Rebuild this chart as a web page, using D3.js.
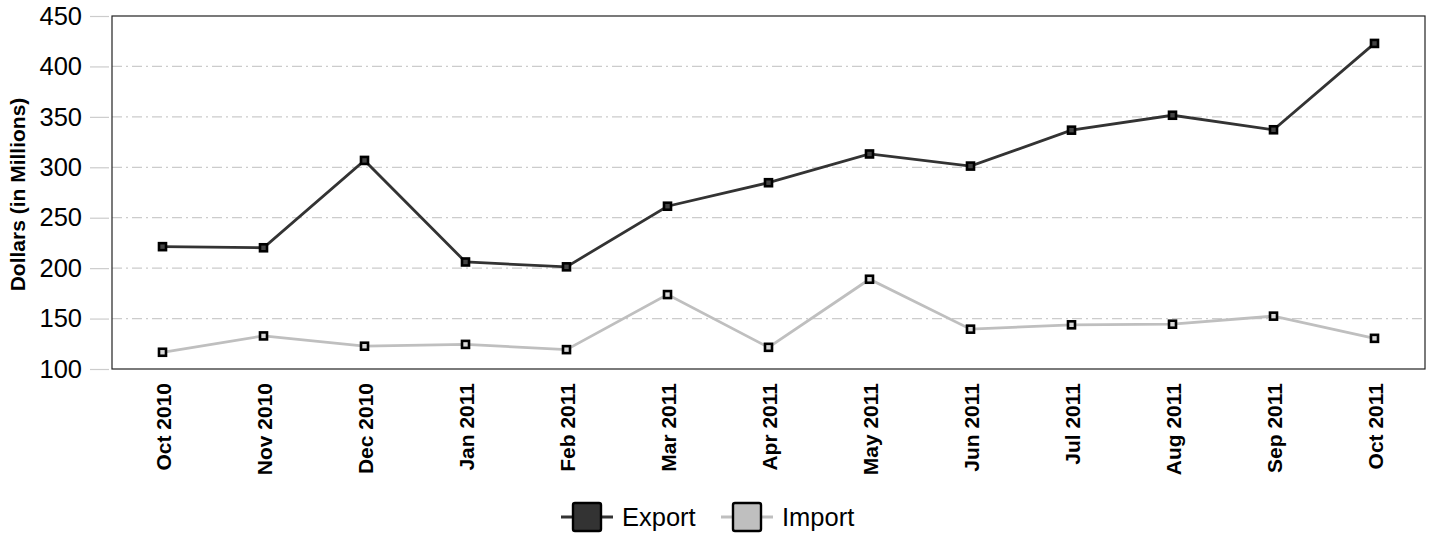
<!DOCTYPE html>
<html>
<head>
<meta charset="utf-8">
<script src="https://cdn.jsdelivr.net/npm/d3@7"></script>
<style>
  body { margin: 0; background: #fff; }
  text { font-family: "Liberation Sans", Arial, sans-serif; }
</style>
</head>
<body>
<div id="vis"></div>
<script>
const FRAME_WIDTH = 1431;
const FRAME_HEIGHT = 535;
const MARGINS = {left: 112, right: 6, top: 16, bottom: 166};

const VIS_WIDTH = FRAME_WIDTH - MARGINS.left - MARGINS.right;
const VIS_HEIGHT = FRAME_HEIGHT - MARGINS.top - MARGINS.bottom;

// data
const MONTHS = ["Oct 2010", "Nov 2010", "Dec 2010", "Jan 2011", "Feb 2011", "Mar 2011",
                "Apr 2011", "May 2011", "Jun 2011", "Jul 2011", "Aug 2011", "Sep 2011", "Oct 2011"];
const EXPORT = [221.3, 220.2, 306.8, 206.1, 201.3, 261.4, 284.7, 313.2, 301.2, 336.8, 351.6, 337.2, 422.8];
const IMPORT = [116.6, 132.8, 122.6, 124.4, 119.2, 173.8, 121.5, 189.0, 139.5, 143.8, 144.4, 152.4, 130.4];
const Y_TICKS = [100, 150, 200, 250, 300, 350, 400, 450];

const SERIES = [
  {name: "Export", values: EXPORT, color: "#333333", dot: "#444444"},
  {name: "Import", values: IMPORT, color: "#bfbfbf", dot: "#d9d9d9"}
];

const SVG = d3.select("#vis")
  .append("svg")
    .attr("width", FRAME_WIDTH)
    .attr("height", FRAME_HEIGHT);

const X_SCALE = d3.scalePoint()
  .domain(MONTHS)
  .range([0, VIS_WIDTH])
  .padding(0.5);

const Y_SCALE = d3.scaleLinear()
  .domain([100, 450])
  .range([VIS_HEIGHT, 0]);

const G = SVG.append("g")
  .attr("transform", "translate(" + MARGINS.left + "," + MARGINS.top + ")");

// y axis: light stubs outside the box + labels
const yAxis = G.append("g")
  .call(d3.axisLeft(Y_SCALE).tickValues(Y_TICKS).tickSize(22).tickPadding(8));
yAxis.select(".domain").remove();
yAxis.selectAll(".tick line")
  .attr("x1", -3)
  .attr("stroke", "#cccccc")
  .attr("stroke-width", 1.2);
yAxis.selectAll(".tick text")
  .attr("font-size", "25.5px")
  .attr("fill", "#000")
  .attr("font-family", "Liberation Sans, Arial, sans-serif");

// dash-dot gridlines
G.append("g")
  .selectAll("line")
  .data(Y_TICKS.filter(d => d > 100 && d < 450))
  .enter()
  .append("line")
    .attr("x1", 0)
    .attr("x2", VIS_WIDTH)
    .attr("y1", d => Y_SCALE(d))
    .attr("y2", d => Y_SCALE(d))
    .attr("stroke", "#cccccc")
    .attr("stroke-width", 1.2)
    .attr("stroke-dasharray", "10,4,2,4");

// box
G.append("rect")
  .attr("x", 0)
  .attr("y", 0)
  .attr("width", VIS_WIDTH)
  .attr("height", VIS_HEIGHT)
  .attr("fill", "none")
  .attr("stroke", "#222")
  .attr("stroke-width", 1.2);

// x labels
const xAxis = G.append("g")
  .attr("transform", "translate(0," + VIS_HEIGHT + ")")
  .call(d3.axisBottom(X_SCALE).tickSize(0));
xAxis.select(".domain").remove();
xAxis.selectAll(".tick text")
  .attr("transform", "rotate(-90)")
  .attr("text-anchor", "end")
  .attr("x", -14)
  .attr("y", 0)
  .attr("dy", "0.36em")
  .attr("font-size", "21px")
  .attr("font-weight", "bold")
  .attr("fill", "#000")
  .attr("font-family", "Liberation Sans, Arial, sans-serif");

// y title
SVG.append("text")
  .attr("transform", "translate(25," + (MARGINS.top + VIS_HEIGHT / 2 + 2) + ") rotate(-90)")
  .attr("text-anchor", "middle")
  .attr("font-size", "21px")
  .attr("font-weight", "bold")
  .text("Dollars (in Millions)");

// lines
const LINE = d3.line()
  .x((d, i) => X_SCALE(MONTHS[i]))
  .y(d => Y_SCALE(d));

SERIES.forEach(s => {
  G.append("path")
    .datum(s.values)
    .attr("d", LINE)
    .attr("fill", "none")
    .attr("stroke", s.color)
    .attr("stroke-width", 2.8);

  G.selectAll(".pt-" + s.name)
    .data(s.values)
    .enter()
    .append("rect")
      .attr("x", (d, i) => X_SCALE(MONTHS[i]) - 3.5)
      .attr("y", d => Y_SCALE(d) - 3.5)
      .attr("width", 7)
      .attr("height", 7)
      .attr("fill", s.dot)
      .attr("stroke", "#000")
      .attr("stroke-width", 2.6);
});

// legend
const LEGEND = SVG.append("g").attr("transform", "translate(561,517)");
const legendX = [0, 160];
SERIES.forEach((s, i) => {
  const lg = LEGEND.append("g").attr("transform", "translate(" + legendX[i] + ",0)");
  lg.append("line")
    .attr("x1", 0).attr("x2", 52)
    .attr("y1", 0).attr("y2", 0)
    .attr("stroke", s.color)
    .attr("stroke-width", 2.8);
  lg.append("rect")
    .attr("x", 12).attr("y", -14)
    .attr("width", 28).attr("height", 28)
    .attr("rx", 2)
    .attr("fill", s.color)
    .attr("stroke", "#000")
    .attr("stroke-width", 2.4);
  lg.append("text")
    .attr("x", 61)
    .attr("y", 0)
    .attr("dy", "0.36em")
    .attr("font-size", "25.5px")
    .text(s.name);
});
</script>
</body>
</html>
